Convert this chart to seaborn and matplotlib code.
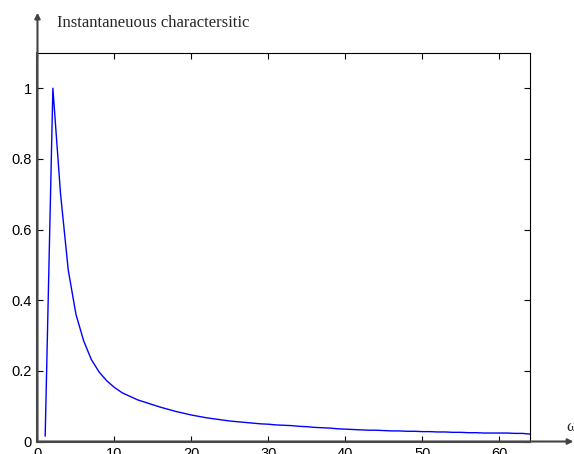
import seaborn as sns
import matplotlib.pyplot as plt
import numpy as np

# Datos (muestras en omega = 1..64)
omega = np.arange(1, 65)
respuesta = [
    0.015, 1.000, 0.700, 0.485, 0.360, 0.285, 0.232, 0.197, 0.172, 0.153,
    0.138, 0.128, 0.118, 0.111, 0.104, 0.097, 0.091, 0.085, 0.080, 0.075,
    0.071, 0.067, 0.064, 0.061, 0.058, 0.056, 0.054, 0.052, 0.050, 0.049,
    0.047, 0.046, 0.045, 0.043, 0.042, 0.040, 0.039, 0.038, 0.036, 0.035,
    0.034, 0.033, 0.032, 0.032, 0.031, 0.030, 0.030, 0.029, 0.029, 0.028,
    0.028, 0.027, 0.027, 0.026, 0.026, 0.025, 0.025, 0.024, 0.024, 0.024,
    0.024, 0.023, 0.023, 0.021,
]
xticks = [0, 10, 20, 30, 40, 50, 60]
yticks = [0, 0.2, 0.4, 0.6, 0.8, 1]
yticklabels = ["0", "0.2", "0.4", "0.6", "0.8", "1"]

sns.set_style("ticks")
plt.rcParams["font.family"] = ["Liberation Sans", "DejaVu Sans"]

fig = plt.figure(figsize=(5.74, 4.54), dpi=100)
ax = fig.add_axes([0.0653, 0.0275, 0.858, 0.856])

sns.lineplot(x=omega, y=respuesta, color="blue", linewidth=1.0, ax=ax)

ax.set_xlim(0, 64)
ax.set_ylim(0, 1.1)
ax.set_xticks(xticks)
ax.set_yticks(yticks)
ax.set_yticklabels(yticklabels)
ax.tick_params(direction="in", top=True, right=True, length=4, width=0.8,
               labelsize=10.5, colors="black", pad=4)
for side in ["top", "right"]:
    ax.spines[side].set_color("black")
    ax.spines[side].set_linewidth(0.8)
for side in ["left", "bottom"]:
    ax.spines[side].set_color("#555555")
    ax.spines[side].set_linewidth(1.5)

# Ejes con flechas (estilo esquema)
arrow = dict(arrowstyle="-|>", color="#444444", lw=1.5, mutation_scale=8,
             shrinkA=0, shrinkB=0)
ax.annotate("", xy=(0.0653, 0.972), xytext=(0.0653, 0.0275),
            xycoords="figure fraction", arrowprops=arrow)
ax.annotate("", xy=(0.999, 0.0275), xytext=(0.0653, 0.0275),
            xycoords="figure fraction", arrowprops=arrow)

fig.text(0.099, 0.95, "Instantaneuous charactersitic", family="Liberation Serif",
         fontsize=12, va="center", ha="left")
fig.text(0.986, 0.06, "ω", family="Liberation Serif", fontsize=12,
         va="center", ha="left")

fig.savefig("out.png", dpi=100)
